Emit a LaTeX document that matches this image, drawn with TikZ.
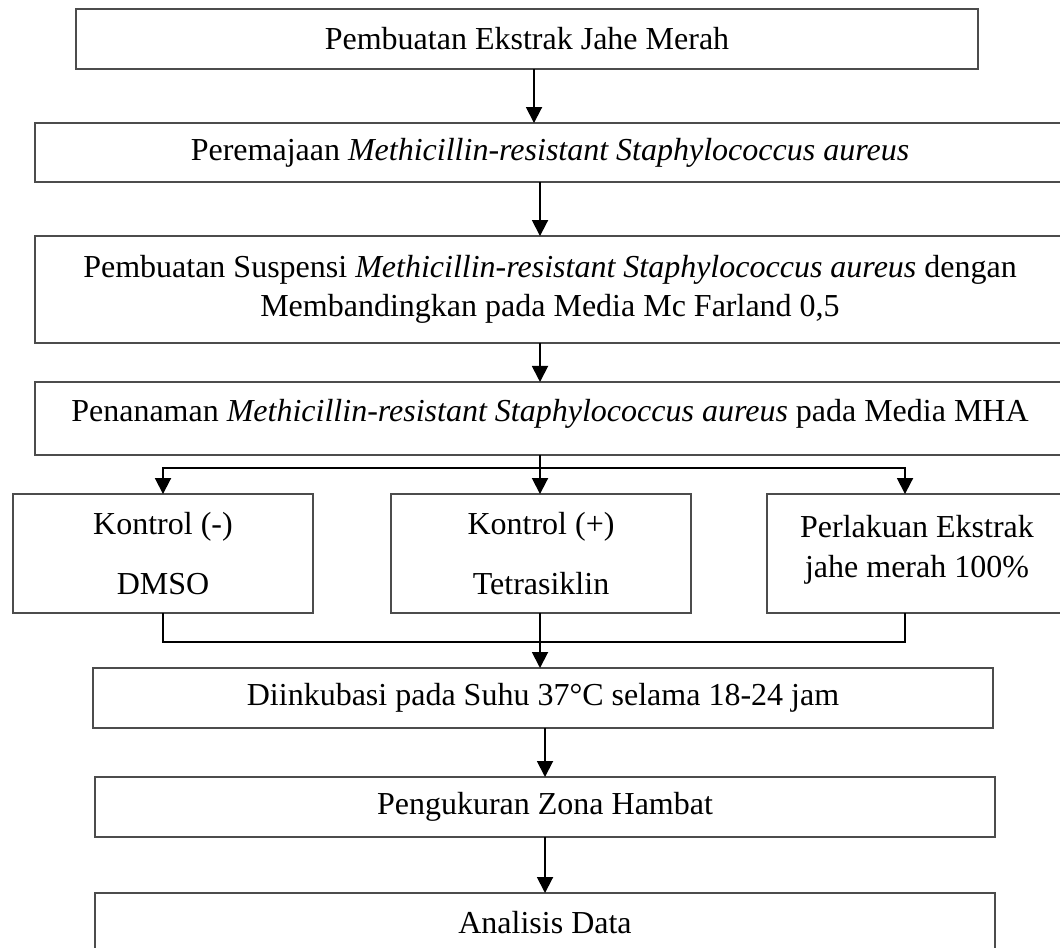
\documentclass[tikz,border=0pt]{standalone}
\usepackage{fontspec}
\setmainfont{Liberation Serif}
\usetikzlibrary{positioning,calc,arrows.meta}

\begin{document}
\begin{tikzpicture}[x=0.375pt,y=-0.375pt,
				box/.style={draw=black!70,line width=0.5pt,rectangle,outer sep=0pt,inner sep=0pt,align=center,
					font=\fontsize{12}{14.4}\selectfont},
				link/.style={line width=0.7pt},
				arr/.style={link,-{Triangle[width=6pt,length=6pt]}}]
				\useasboundingbox (0,0) rectangle (1060,947);
				\clip (0,0) rectangle (1060,947);
				\node[box,minimum width=338.25pt,minimum height=22.5pt] (A) at (527,39)   {Pembuatan Ekstrak Jahe Merah};
				\node[box,minimum width=386.25pt,minimum height=22.1pt] (B) at (550,152.5) {Peremajaan \textit{Methicillin-resistant Staphylococcus aureus}};
				\node[box,minimum width=386.25pt,minimum height=40.1pt] (C) at (550,289.5) {Pembuatan Suspensi \textit{Methicillin-resistant Staphylococcus aureus} dengan\\Membandingkan pada Media Mc Farland 0,5};
				\node[box,minimum width=386.25pt,minimum height=27.4pt] (D) at (550,418.5) {\raisebox{1.7pt}[\height][\depth]{Penanaman \textit{Methicillin-resistant Staphylococcus aureus} pada Media MHA}};
				\node[box,minimum width=112.5pt,minimum height=44.6pt]  (E1) at (163,553.5) {Kontrol (-)\\[8.3pt]DMSO};
				\node[box,minimum width=112.5pt,minimum height=44.6pt]  (E2) at (541,553.5) {Kontrol (+)\\[8.3pt]Tetrasiklin};
				\node[box,minimum width=112.5pt,minimum height=44.6pt]  (E3) at (917,553.5) {\raisebox{1.5pt}[\height][\depth]{\begin{tabular}{@{}c@{}}Perlakuan Ekstrak\\[0.6pt]jahe merah 100\%\end{tabular}}};
				\node[box,minimum width=337.5pt,minimum height=22.5pt]  (F) at (543,698)   {Diinkubasi pada Suhu 37\textdegree C selama 18-24 jam};
				\node[box,minimum width=337.5pt,minimum height=22.5pt]  (G) at (545,807)   {Pengukuran Zona Hambat};
				\node[box,minimum width=337.5pt,minimum height=22.5pt]  (H) at (545,923)   {Analisis Data};
				
				\coordinate (top)  at (534,0);
				\coordinate (mid)  at (540,0);
				\coordinate (lo)   at (545,0);
				\coordinate (rgt)  at (905,0);
				\coordinate (fork) at (540,468);
				\coordinate (join) at (540,642);
				
				\draw[arr]  (A.south -| top) -- (B.north -| top);
				\draw[arr]  (B.south -| mid) -- (C.north -| mid);
				\draw[arr]  (C.south -| mid) -- (D.north -| mid);
				\draw[link] (D.south -| mid) -- (fork);
				\draw[arr]  (fork) -| (E1.north);
				\draw[arr]  (fork) -- (E2.north -| fork);
				\draw[arr]  (fork) -| (E3.north -| rgt);
				\draw[link] (E1.south) |- (join) -| (E3.south -| rgt);
				\draw[link] (E2.south -| join) -- (join);
				\draw[arr]  (join) -- (F.north -| join);
				\draw[arr]  (F.south -| lo) -- (G.north -| lo);
				\draw[arr]  (G.south -| lo) -- (H.north -| lo);
			\end{tikzpicture}
\end{document}
